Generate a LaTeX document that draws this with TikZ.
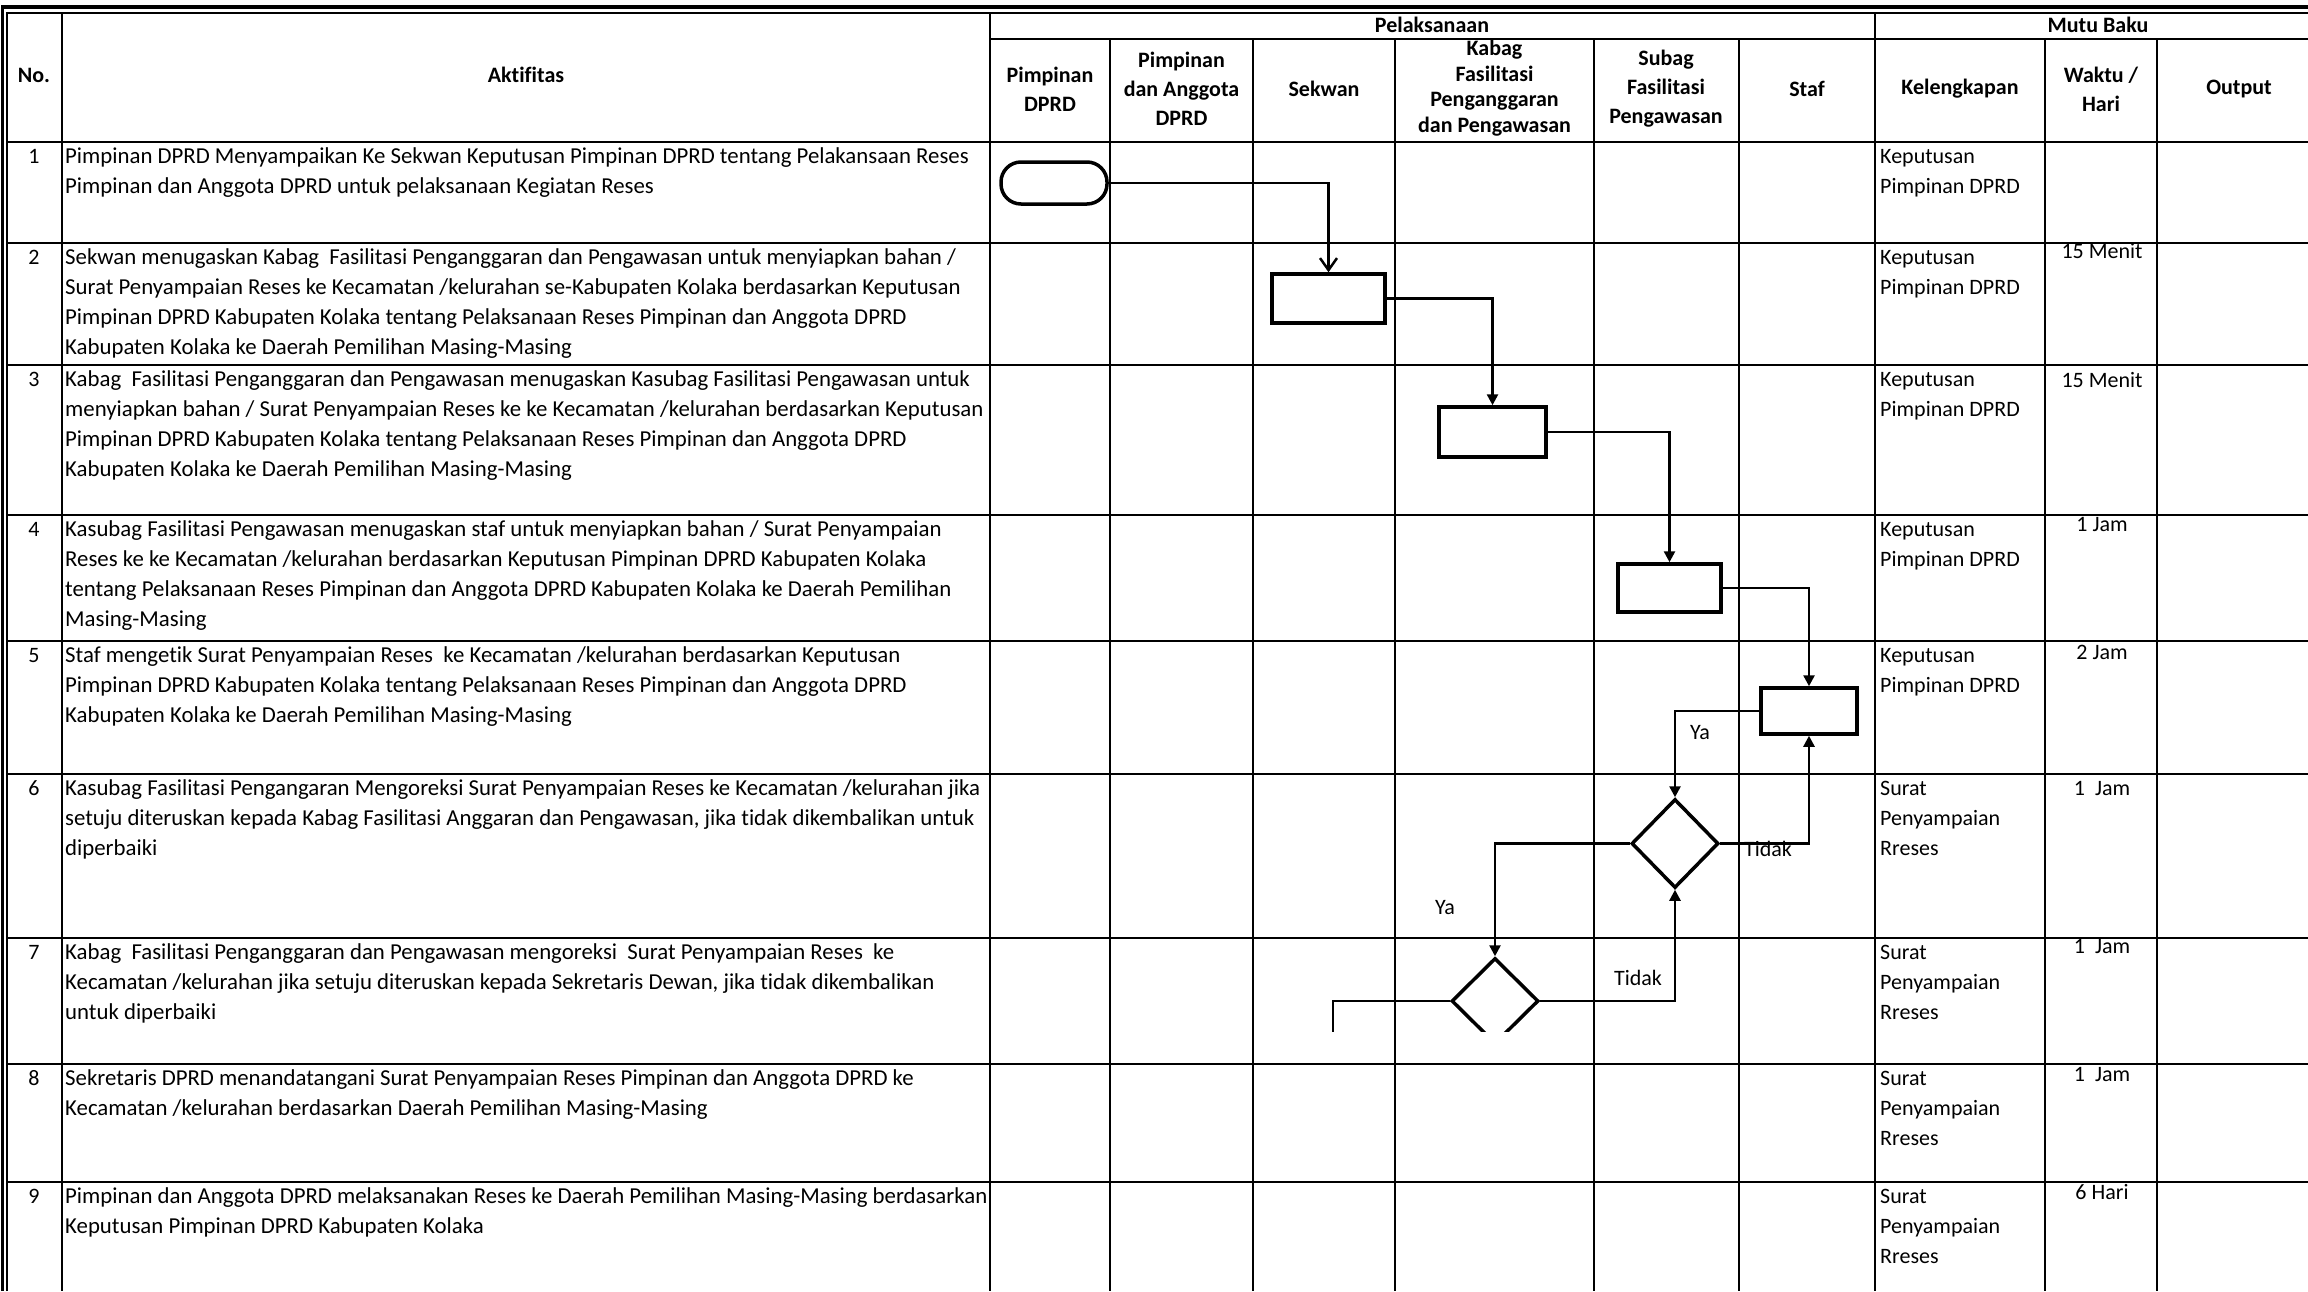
\documentclass[tikz,border=0pt]{standalone}
\usepackage{fontspec}
\setmainfont[Ligatures=NoCommon]{Carlito}
\usetikzlibrary{arrows.meta,shapes.geometric}
\newcommand\fstr{\rule{0pt}{22pt}}
\begin{document}
\begin{tikzpicture}[x=1pt,y=-1pt,
  grid/.style={line width=2.2pt},
  txt/.style={anchor=north west,inner sep=0pt,align=left,font=\fontsize{22}{30}\selectfont},
  akt/.style={txt,font=\fontsize{22.8}{30}\selectfont},
  wkt/.style={anchor=north,inner sep=0pt,font=\fontsize{22}{30}\selectfont},
  hdr/.style={inner sep=0pt,align=center,font=\bfseries\fontsize{22}{29}\selectfont},
  proc/.style={draw,line width=3.5pt,rectangle,inner sep=0pt},
  term/.style={draw,line width=3.5pt,rectangle,rounded corners=20pt,inner sep=0pt,minimum width=106pt,minimum height=42pt},
  dec/.style={draw,line width=3.5pt,diamond,inner sep=0pt},
  conn/.style={line width=2.5pt,-{Triangle[length=11pt,width=11pt]}},
  conno/.style={line width=2.5pt,-{Straight Barb[length=12pt,width=17pt]}},
  lbl/.style={inner sep=0pt,font=\fontsize{22}{30}\selectfont}
]
\useasboundingbox (0,0) rectangle (2308,1291);
\fill[white] (0,0) rectangle (2308,1291);

% outer double border
\draw[line width=3.5pt] (2.5,1291) -- (2.5,7) -- (2308,7);
\draw[line width=2pt] (7,1291) -- (7,12.5) -- (2308,12.5);

% grid
\draw[grid] (62,12.5) -- (62,1291);
\draw[grid] (990,12.5) -- (990,1291);
\draw[grid] (1875,12.5) -- (1875,1291);
\foreach \x in {1110,1253,1395,1594,1739,2045,2157} \draw[grid] (\x,39) -- (\x,1291);
\draw[grid] (990,39) -- (2308,39);
\foreach \y in {142,243,365,515,641,774,938,1064,1182} \draw[grid] (7,\y) -- (2308,\y);

% header
\node[hdr] (hno) at (34,75) {No.};
\node[hdr] (hakt) at (526,75) {Aktifitas};
\node[hdr] (hpel) at (1432,25) {Pelaksanaan};
\node[hdr] (hmutu) at (2098,25) {Mutu Baku};
\node[hdr] (h1) at (1050,89) {Pimpinan\\DPRD};
\node[hdr] (h2) at (1181.5,89) {Pimpinan\\dan Anggota\\DPRD};
\node[hdr] (h3) at (1324,89) {Sekwan};
\node[hdr,font=\bfseries\fontsize{22}{25.5}\selectfont] (h4) at (1494.5,88) {Kabag\\Fasilitasi\\Penganggaran\\dan Pengawasan};
\node[hdr] (h5) at (1666,89) {Subag\\Fasilitasi\\Pengawasan};
\node[hdr] (h6) at (1807,89) {Staf};
\node[hdr] (h7) at (1960,89) {Kelengkapan};
\node[hdr] (h8) at (2101,89) {Waktu /\\Hari};
\node[hdr] (h9) at (2239,89) {Output};

% numbers
\node[wkt] (n1) at (34,141) {\fstr 1};
\node[wkt] (n2) at (34,242) {\fstr 2};
\node[wkt] (n3) at (34,364) {\fstr 3};
\node[wkt] (n4) at (34,514) {\fstr 4};
\node[wkt] (n5) at (34,640) {\fstr 5};
\node[wkt] (n6) at (34,773) {\fstr 6};
\node[wkt] (n7) at (34,937) {\fstr 7};
\node[wkt] (n8) at (34,1063) {\fstr 8};
\node[wkt] (n9) at (34,1181) {\fstr 9};

% activities
\node[akt] (a1) at (65,141) {\fstr Pimpinan DPRD Menyampaikan Ke Sekwan Keputusan Pimpinan DPRD tentang Pelakansaan Reses\\Pimpinan dan Anggota DPRD untuk pelaksanaan Kegiatan Reses};
\node[akt] (a2) at (65,242) {\fstr Sekwan menugaskan Kabag\ \ Fasilitasi Penganggaran dan Pengawasan untuk menyiapkan bahan /\\Surat Penyampaian Reses ke Kecamatan /kelurahan se-Kabupaten Kolaka berdasarkan Keputusan\\Pimpinan DPRD Kabupaten Kolaka tentang Pelaksanaan Reses Pimpinan dan Anggota DPRD\\Kabupaten Kolaka ke Daerah Pemilihan Masing-Masing};
\node[akt] (a3) at (65,364) {\fstr Kabag\ \ Fasilitasi Penganggaran dan Pengawasan menugaskan Kasubag Fasilitasi Pengawasan untuk\\menyiapkan bahan / Surat Penyampaian Reses ke ke Kecamatan /kelurahan berdasarkan Keputusan\\Pimpinan DPRD Kabupaten Kolaka tentang Pelaksanaan Reses Pimpinan dan Anggota DPRD\\Kabupaten Kolaka ke Daerah Pemilihan Masing-Masing};
\node[akt] (a4) at (65,514) {\fstr Kasubag Fasilitasi Pengawasan menugaskan staf untuk menyiapkan bahan / Surat Penyampaian\\Reses ke ke Kecamatan /kelurahan berdasarkan Keputusan Pimpinan DPRD Kabupaten Kolaka\\tentang Pelaksanaan Reses Pimpinan dan Anggota DPRD Kabupaten Kolaka ke Daerah Pemilihan\\Masing-Masing};
\node[akt] (a5) at (65,640) {\fstr Staf mengetik Surat Penyampaian Reses\ \ ke Kecamatan /kelurahan berdasarkan Keputusan\\Pimpinan DPRD Kabupaten Kolaka tentang Pelaksanaan Reses Pimpinan dan Anggota DPRD\\Kabupaten Kolaka ke Daerah Pemilihan Masing-Masing};
\node[akt] (a6) at (65,773) {\fstr Kasubag Fasilitasi Pengangaran Mengoreksi Surat Penyampaian Reses ke Kecamatan /kelurahan jika\\setuju diteruskan kepada Kabag Fasilitasi Anggaran dan Pengawasan, jika tidak dikembalikan untuk\\diperbaiki};
\node[akt] (a7) at (65,937) {\fstr Kabag\ \ Fasilitasi Penganggaran dan Pengawasan mengoreksi\ \ Surat Penyampaian Reses\ \ ke\\Kecamatan /kelurahan jika setuju diteruskan kepada Sekretaris Dewan, jika tidak dikembalikan\\untuk diperbaiki};
\node[akt] (a8) at (65,1063) {\fstr Sekretaris DPRD menandatangani Surat Penyampaian Reses Pimpinan dan Anggota DPRD ke\\Kecamatan /kelurahan berdasarkan Daerah Pemilihan Masing-Masing};
\node[akt] (a9) at (65,1181) {\fstr Pimpinan dan Anggota DPRD melaksanakan Reses ke Daerah Pemilihan Masing-Masing berdasarkan\\Keputusan Pimpinan DPRD Kabupaten Kolaka};

% kelengkapan
\node[txt] (k1) at (1880,141) {\fstr Keputusan\\Pimpinan DPRD};
\node[txt] (k2) at (1880,242) {\fstr Keputusan\\Pimpinan DPRD};
\node[txt] (k3) at (1880,364) {\fstr Keputusan\\Pimpinan DPRD};
\node[txt] (k4) at (1880,514) {\fstr Keputusan\\Pimpinan DPRD};
\node[txt] (k5) at (1880,640) {\fstr Keputusan\\Pimpinan DPRD};
\node[txt] (k6) at (1880,773) {\fstr Surat\\Penyampaian\\Rreses};
\node[txt] (k7) at (1880,937) {\fstr Surat\\Penyampaian\\Rreses};
\node[txt] (k8) at (1880,1063) {\fstr Surat\\Penyampaian\\Rreses};
\node[txt] (k9) at (1880,1181) {\fstr Surat\\Penyampaian\\Rreses};

% waktu
\node[wkt] (w2) at (2102,236) {\fstr 15 Menit};
\node[wkt] (w3) at (2102,365) {\fstr 15 Menit};
\node[wkt] (w4) at (2102,509) {\fstr 1 Jam};
\node[wkt] (w5) at (2102,637.5) {\fstr 2 Jam};
\node[wkt] (w6) at (2102,773) {\fstr 1\ \ Jam};
\node[wkt] (w7) at (2102,931) {\fstr 1\ \ Jam};
\node[wkt] (w8) at (2102,1059) {\fstr 1\ \ Jam};
\node[wkt] (w9) at (2102,1177) {\fstr 6 Hari};

% flowchart
\begin{scope}
\clip (990,142) rectangle (1875,1031);
\node[term] (t1) at (1054,183) {};
\node[proc,minimum width=113pt,minimum height=49pt] (b2) at (1328.5,298.5) {};
\node[proc,minimum width=107pt,minimum height=50pt] (b3) at (1492.5,432) {};
\node[proc,minimum width=103pt,minimum height=48pt] (b4) at (1669.5,588) {};
\node[proc,minimum width=96pt,minimum height=46pt] (b5) at (1809,711) {};
\node[dec,minimum width=87pt,minimum height=89pt] (d6) at (1675,843.5) {};
\node[dec,minimum width=87pt,minimum height=86pt] (d7) at (1495,1001) {};
\coordinate (c7) at (1333,1060);

\draw[conno] (t1.east) -| (b2.north);
\draw[conn] (b2.east) -| (b3.north);
\draw[conn] (b3.east) -| (b4.north);
\draw[conn] (b4.east) -| (b5.north);
\draw[conn] (b5.west) -| (d6.north);
\draw[conn] (d6.east) -| (b5.south);
\draw[conn] (d6.west) -| (d7.north);
\draw[conn] (d7.east) -| (d6.south);
\draw[line width=2.5pt] (d7.west) -| (c7);

\node[lbl] (ya1) at (1700,733) {Ya};
\node[lbl] (td1) at (1768,849) {Tidak};
\node[lbl] (ya2) at (1445,908) {Ya};
\node[lbl] (td2) at (1638,978) {Tidak};
\end{scope}
\end{tikzpicture}
\end{document}
